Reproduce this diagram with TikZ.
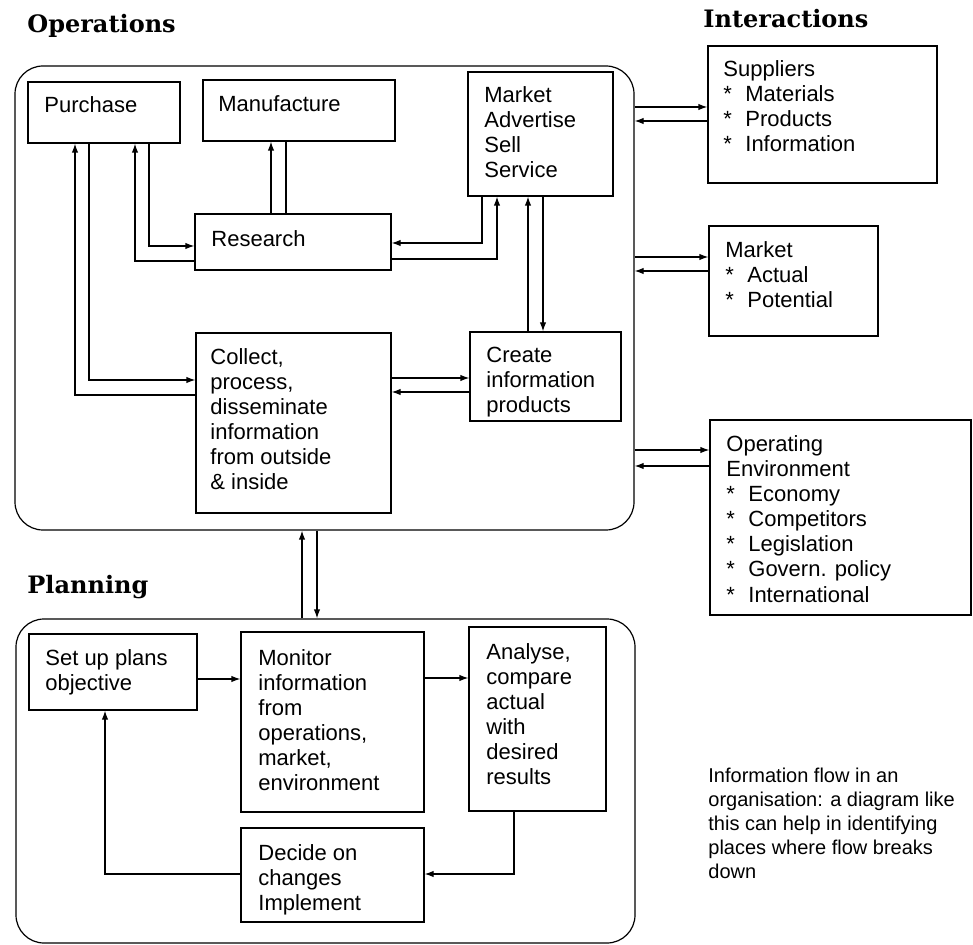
\documentclass[tikz,border=0pt]{standalone}
\usepackage{fontspec}
\setmainfont{Liberation Sans}
\newfontfamily\titlefont{DejaVu Serif}
\usetikzlibrary{arrows.meta,fit}
\newcommand\itm[1]{\makebox[11pt][l]{*}#1}
\newcommand\lns[1]{\begin{tabular}[t]{@{}l@{}}#1\end{tabular}}
\begin{document}
\begin{tikzpicture}[x=0.5pt,y=-0.5pt,
  bx/.style={draw, line width=0.6pt, inner sep=0pt},
  rbox/.style={bx, rounded corners=14pt},
  txt/.style={inner sep=0pt, anchor=base west, font=\fontsize{11}{12.5}\selectfont},
  captxt/.style={inner sep=0pt, anchor=base west, font=\fontsize{10}{12}\selectfont},
  ttl/.style={inner sep=0pt, anchor=base west, font=\titlefont\bfseries\fontsize{12}{14}\selectfont},
  arr/.style={line width=0.6pt, -{Latex[length=4.5pt,width=3.2pt]}},
  ln/.style={line width=0.6pt}]
\useasboundingbox (0,0) rectangle (973,945);

% titles
\node[ttl] (tOps) at (27,33) {Operations};
\node[ttl] (tInt) at (703,28) {Interactions};
\node[ttl] (tPlan) at (27,593) {Planning};

% containers
\node[rbox, fit={(15,66)(634,530)}] (ops) {};
\node[rbox, fit={(16,619)(635,943)}] (plan) {};

% operations boxes
\node[bx, fit={(28,82)(180,143)}] (purchase) {};
\node[txt] (tPurchase) at (44,113) {Purchase};
\node[bx, fit={(203,80)(395,141)}] (manuf) {};
\node[txt] (tManuf) at (218,112) {Manufacture};
\node[bx, fit={(468,72)(613,196)}] (mkt) {};
\node[txt] (tMkt) at (484,103) {\lns{Market\\Advertise\\Sell\\Service}};
\node[bx, fit={(195,214)(391,270)}] (research) {};
\node[txt] (tResearch) at (211,247) {Research};
\node[bx, fit={(196,333)(391,513)}] (collect) {};
\node[txt] (tCollect) at (210,365) {\lns{Collect,\\process,\\disseminate\\information\\from outside\\\& inside}};
\node[bx, fit={(470,332)(621,421)}] (create) {};
\node[txt] (tCreate) at (486,363) {\lns{Create\\information\\products}};

% interactions
\node[bx, fit={(708,46)(937,183)}] (supp) {};
\node[txt] (tSupp) at (723,77) {\lns{Suppliers\\\itm{Materials}\\\itm{Products}\\\itm{Information}}};
\node[bx, fit={(709,226)(878,336)}] (mktI) {};
\node[txt] (tMktI) at (725,258) {\lns{Market\\\itm{Actual}\\\itm{Potential}}};
\node[bx, fit={(710,420)(971,615)}] (openv) {};
\node[txt] (tOpenv) at (726,452) {\lns{Operating\\Environment\\\itm{Economy}\\\itm{Competitors}\\\itm{Legislation}\\\itm{Govern. policy}\\\itm{International}}};

% planning boxes
\node[bx, fit={(29,634)(197,710)}] (setup) {};
\node[txt] (tSetup) at (45,665) {\lns{Set up plans\\objective}};
\node[bx, fit={(241,632)(424,812)}] (monitor) {};
\node[txt] (tMonitor) at (258,665) {\lns{Monitor\\information\\from\\operations,\\market,\\environment}};
\node[bx, fit={(469,627)(606,811)}] (analyse) {};
\node[txt] (tAnalyse) at (486,659) {\lns{Analyse,\\compare\\actual\\with\\desired\\results}};
\node[bx, fit={(241,828)(424,922)}] (decide) {};
\node[txt] (tDecide) at (258,860) {\lns{Decide on\\changes\\Implement}};

% caption
\node[captxt] (caption) at (708,782) {\lns{Information flow in an\\organisation: a diagram like\\this can help in identifying\\places where flow breaks\\down}};

% operations connectors
\draw[arr] (collect.west |- 0,395) -| (purchase.south -| 75,0);
\draw[arr] (purchase.south -| 89,0) |- (collect.west |- 0,380);
\draw[arr] (research.west |- 0,261) -| (purchase.south -| 135,0);
\draw[arr] (purchase.south -| 149,0) |- (research.west |- 0,246);
\draw[arr] (research.north -| 271,0) -- (manuf.south -| 271,0);
\draw[ln] (research.north -| 286,0) -- (manuf.south -| 286,0);
\draw[arr] (mkt.south -| 482,0) |- (research.east |- 0,243);
\draw[arr] (research.east |- 0,259) -| (mkt.south -| 497,0);
\draw[arr] (create.north -| 528,0) -- (mkt.south -| 528,0);
\draw[arr] (mkt.south -| 543,0) -- (create.north -| 543,0);
\draw[arr] (collect.east |- 0,378) -- (create.west |- 0,378);
\draw[arr] (create.west |- 0,392) -- (collect.east |- 0,392);

% interactions connectors
\draw[arr] (ops.east |- 0,107) -- (supp.west |- 0,107);
\draw[arr] (supp.west |- 0,121) -- (ops.east |- 0,121);
\draw[arr] (ops.east |- 0,257) -- (mktI.west |- 0,257);
\draw[arr] (mktI.west |- 0,271) -- (ops.east |- 0,271);
\draw[arr] (ops.east |- 0,450) -- (openv.west |- 0,450);
\draw[arr] (openv.west |- 0,466) -- (ops.east |- 0,466);

% operations <-> planning
\draw[arr] (plan.north -| 302,0) -- (ops.south -| 302,0);
\draw[arr] (ops.south -| 317,0) -- (plan.north -| 317,0);

% planning connectors
\draw[arr] (setup.east |- 0,679) -- (monitor.west |- 0,679);
\draw[arr] (monitor.east |- 0,678) -- (analyse.west |- 0,678);
\draw[arr] (analyse.south -| 514,0) |- (decide.east |- 0,874);
\draw[arr] (decide.west |- 0,874) -| (setup.south -| 105,0);
\end{tikzpicture}
\end{document}
